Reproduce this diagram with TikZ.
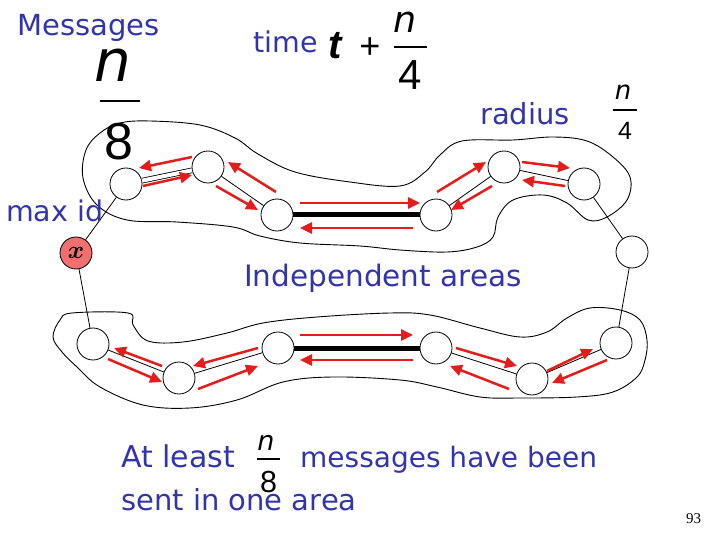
\documentclass[tikz,border=0pt]{standalone}
\usepackage{bm}
\usepackage{fontspec}
\setmainfont{DejaVu Sans}
\newfontfamily\hel{Liberation Sans}
\newfontfamily\tms{Liberation Serif}
\usetikzlibrary{calc,arrows.meta}
\definecolor{txtblue}{RGB}{51,51,170}
\definecolor{msgred}{RGB}{228,28,28}
\definecolor{maxred}{RGB}{240,112,112}
\newcommand\fsz[1]{\fontsize{#1}{#1}\selectfont}
\begin{document}
\begin{tikzpicture}[x=1pt,y=-1pt,
  proc/.style={circle,draw,line width=0.8pt,fill=white,minimum size=32pt,inner sep=0pt},
  edge/.style={line width=0.8pt},
  heavy/.style={line width=5pt},
  msg/.style={draw=msgred,line width=2.5pt,-{Triangle[length=12pt,width=11pt]}},
  blob/.style={line width=0.9pt},
  lbl/.style={text=txtblue,anchor=base west,inner sep=0pt},
  fr/.style={inner sep=0pt,anchor=base},
  bar/.style={line width=2.2pt}
]
\useasboundingbox (0,0) rectangle (720,540);

% area outlines
\draw[blob] plot[smooth cycle,tension=0.6] coordinates {
 (83,178) (86,150) (100,133) (120,123) (150,121) (200,125) (235,138) (258,154)
 (295,172) (350,182) (400,186) (425,172) (440,155) (462,141) (513,140) (553,137)
 (587,141) (613,157) (630,177) (627,200) (607,217) (588,220) (567,203) (543,195)
 (513,200) (498,217) (493,237) (477,247) (447,252) (400,250) (360,246) (300,243)
 (260,236) (233,227) (177,222) (127,220) (97,205)};
\draw[blob] plot[smooth cycle,tension=0.6] coordinates {
 (53,337) (60,320) (72,313) (128,313) (133,325) (148,341) (183,342) (227,333)
 (263,323) (317,317) (390,313) (430,315) (480,328) (520,337) (547,332) (567,318)
 (590,308) (620,310) (640,320) (647,340) (645,360) (637,377) (613,392) (577,397)
 (520,398) (480,397) (437,387) (400,380) (333,377) (283,382) (237,400) (190,408)
 (143,405) (100,387) (77,367) (62,352)};

% processors
\node[proc] (A1) at (126,184) {};
\node[proc] (A2) at (208,167) {};
\node[proc] (A3) at (277,215) {};
\node[proc] (A5) at (436,215) {};
\node[proc] (A7) at (504,167) {};
\node[proc] (A8) at (584,184) {};
\node[proc] (A9) at (632,252) {};
\node[proc,fill=maxred] (MX) at (76,253) {\fsz{28}$\bm{x}$};
\node[proc] (B1) at (93,344) {};
\node[proc] (B2) at (179,378) {};
\node[proc] (B3) at (278,348) {};
\node[proc] (B4) at (436,348) {};
\node[proc] (B5) at (532,379) {};
\node[proc] (B6) at (616,343) {};

% ring edges
\draw[edge,double,double distance=4pt] (A1) -- (A2);
\draw[edge] (A2) -- (A3);
\draw[heavy] (A3) -- (A5);
\draw[edge] (A5) -- (A7);
\draw[edge] (A7) -- (A8);
\draw[edge] (A8) -- (A9);
\draw[edge] (A9) -- (B6);
\draw[edge] (MX) -- (A1);
\draw[edge] (MX) -- (B1);
\draw[edge] (B1) -- (B2);
\draw[edge] (B2) -- (B3);
\draw[heavy] (B3) -- (B4);
\draw[edge] (B4) -- (B5);
\draw[edge] (B5) -- (B6);

% messages (top area)
\draw[msg] ($(A2)+(-16,-10)$) -- ($(A1)+(13,-16)$);
\draw[msg] ($(A1)+(17,2)$) -- ($(A2)+(-16,8)$);
\draw[msg] ($(A3)+(-1,-23)$) -- ($(A2)+(20,-5)$);
\draw[msg] ($(A2)+(8,19)$) -- ($(A3)+(-19,-5)$);
\draw[msg] ($(A3)+(23,-12)$) -- ($(A5)+(-16,-12)$);
\draw[msg] ($(A5)+(-23,13)$) -- ($(A3)+(23,13)$);
\draw[msg] ($(A5)+(1,-23)$) -- ($(A7)+(-18,-5)$);
\draw[msg] ($(A7)+(-12,19)$) -- ($(A5)+(15,-5)$);
\draw[msg] ($(A7)+(18,-5)$) -- ($(A8)+(-14,-16)$);
\draw[msg] ($(A8)+(-19,2)$) -- ($(A7)+(18,13)$);
% messages (bottom area)
\draw[msg] ($(B2)+(-17,-12)$) -- ($(B1)+(21,4)$);
\draw[msg] ($(B1)+(15,15)$) -- ($(B2)+(-17,4)$);
\draw[msg] ($(B3)+(-20,0)$) -- ($(B2)+(14,-12)$);
\draw[msg] ($(B2)+(19,11)$) -- ($(B3)+(-20,18)$);
\draw[msg] ($(B3)+(22,-13)$) -- ($(B4)+(-23,-13)$);
\draw[msg] ($(B4)+(-23,12)$) -- ($(B3)+(22,12)$);
\draw[msg] ($(B4)+(20,0)$) -- ($(B5)+(-15,-13)$);
\draw[msg] ($(B5)+(-23,10)$) -- ($(B4)+(14,18)$);
\draw[msg] ($(B5)+(15,-8)$) -- ($(B6)+(-23,6)$);
\draw[msg] ($(B6)+(-9,17)$) -- ($(B5)+(20,4)$);

% texts
\node[lbl] (tMsg) at (17,36) {\fsz{29}Messages};
\node[fr] (nA) at (113,82) {\itshape\fsz{58}n};
\draw[bar] (100,101) -- (140,101);
\node[fr] (eA) at (119,160) {\hel\fsz{52}8};

\node[lbl] (tTime) at (253,53) {\fsz{28.5}time};
\node[fr] (tt) at (335,58.5) {\hel\itshape\bfseries\fsz{40}t};
\node[fr] (plus) at (370,58.5) {\hel\fsz{36}+};
\node[fr] (nB) at (405,33) {\itshape\fsz{36.5}n};
\draw[bar] (394,46.7) -- (427,46.7);
\node[fr] (fB) at (410,90) {\hel\fsz{42}4};

\node[lbl] (tRad) at (480,125) {\fsz{29}radius};
\node[fr] (nC) at (623,100) {\itshape\fsz{26}n};
\draw[line width=1.8pt] (613,110) -- (637,110);
\node[fr] (fC) at (625,140) {\hel\fsz{25}4};

\node[lbl] (tMax) at (6,222) {\fsz{28.5}max id};
\node[lbl] (tInd) at (244,286) {\fsz{29.5}Independent areas};

\node[lbl] (tAt) at (121,467) {\fsz{30}At least};
\node[fr] (nD) at (266,450) {\itshape\fsz{27}n};
\draw[line width=1.8pt] (257,459) -- (280,459);
\node[fr] (eD) at (268.5,492) {\hel\fsz{30.5}8};
\node[lbl] (tMsg2) at (300,467) {\fsz{28}messages have been};
\node[lbl] (tSent) at (121,510) {\fsz{29}sent in one area};
\node[anchor=base west,inner sep=0pt] (pg) at (686,523) {\tms\fsz{15}93};
\end{tikzpicture}
\end{document}
